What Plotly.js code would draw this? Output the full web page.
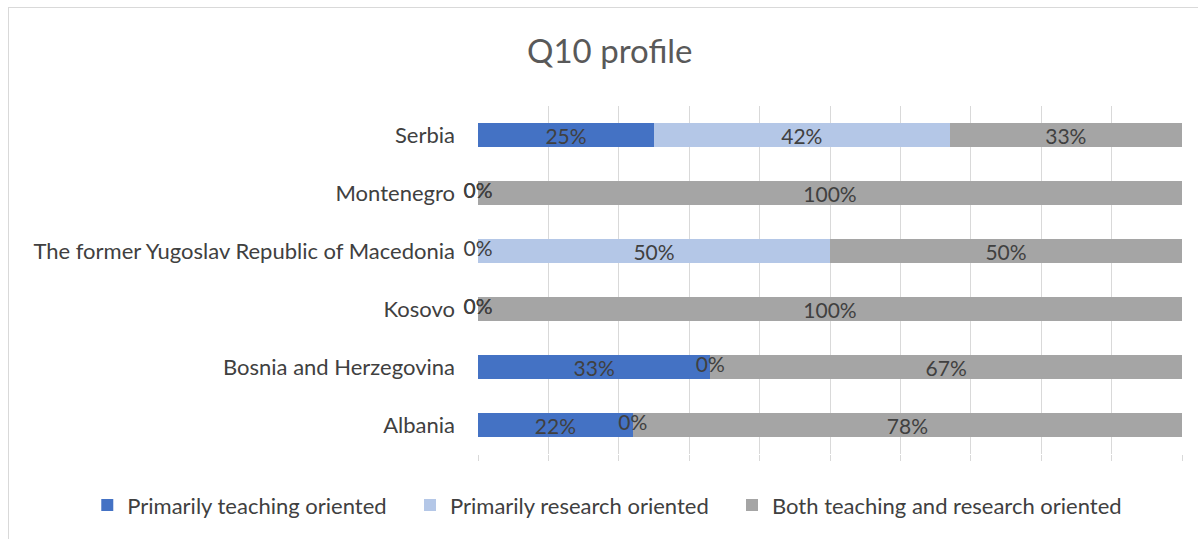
<!DOCTYPE html>
<html>
<head>
<meta charset="utf-8">
<script src="https://cdn.plot.ly/plotly-3.0.1.min.js"></script>
<style>
html,body{margin:0;padding:0;background:#fff;}
#wrap{position:relative;width:1198px;height:539px;overflow:hidden;}
#frame{position:absolute;left:8px;top:7px;width:1300px;height:600px;border-left:1px solid #d9d9d9;border-top:1px solid #d9d9d9;pointer-events:none;}
#chart{position:absolute;left:0;top:0;width:1198px;height:539px;}
</style>
</head>
<body>
<div id="wrap">
<div id="chart"></div>
<div id="frame"></div>
</div>
<script>
// Categories, top to bottom as shown
const categories = ["Serbia", "Montenegro", "The former Yugoslav Republic of Macedonia", "Kosovo", "Bosnia and Herzegovina", "Albania"];
const seriesNames = ["Primarily teaching oriented", "Primarily research oriented", "Both teaching and research oriented"];
const teaching = [25, 0, 0, 0, 33, 22];
const research = [42, 0, 50, 0, 0, 0];
const both = [33, 100, 50, 100, 67, 78];
const colors = ["#4472C4", "#B4C7E7", "#A5A5A5"];

const FONT = "Lato, 'Open Sans', sans-serif";
const TXT = "#404040";
const series = [teaching, research, both];
const legendIds = ["legend", "legend2", "legend3"];
const legendX = [-0.555, -0.0966, 0.3608];

const traces = series.map((vals, i) => ({
  type: "bar",
  orientation: "h",
  name: seriesNames[i],
  legend: legendIds[i],
  y: categories,
  x: vals,
  marker: {color: colors[i]},
  text: vals.map(v => v === 0 ? "" : v + "%"),
  textposition: "inside",
  insidetextanchor: "middle",
  constraintext: "none",
  textfont: {family: FONT, size: 21, color: TXT},
  hoverinfo: "none"
}));

// zero-value labels placed at the cumulative position of their (empty) segment
const zx = [], zy = [], zt = [];
categories.forEach((c, k) => {
  let cum = 0;
  series.forEach((vals) => {
    if (vals[k] === 0) { zx.push(cum); zy.push(c); zt.push("0%"); }
    cum += vals[k];
  });
});
traces.push({
  type: "scatter",
  mode: "text",
  x: zx, y: zy, text: zt,
  textposition: "middle center",
  textfont: {family: FONT, size: 21, color: TXT},
  showlegend: false,
  cliponaxis: false,
  hoverinfo: "none"
});

const layout = {
  width: 1198, height: 539,
  margin: {l: 478, r: 16, t: 106, b: 85},
  paper_bgcolor: "rgba(0,0,0,0)",
  plot_bgcolor: "rgba(0,0,0,0)",
  barmode: "stack",
  bargap: 0.6,
  showlegend: true,
  title: {
    text: "Q10 profile",
    font: {family: FONT, size: 33, color: "#595959"},
    x: 0.509, xref: "container", xanchor: "center",
    y: 0.905, yref: "container", yanchor: "middle"
  },
  xaxis: {
    range: [0, 100],
    dtick: 10,
    showgrid: true,
    gridcolor: "#d9d9d9",
    gridwidth: 1,
    zeroline: false,
    showline: false,
    ticks: "outside",
    ticklen: 6,
    tickcolor: "#d9d9d9",
    showticklabels: false,
    fixedrange: true
  },
  yaxis: {
    type: "category",
    autorange: "reversed",
    showgrid: false,
    zeroline: false,
    showline: false,
    ticks: "",
    ticklabelstandoff: 22,
    tickfont: {family: FONT, size: 22, color: TXT},
    fixedrange: true
  }
};

legendIds.forEach((id, i) => {
  layout[id] = {
    orientation: "h",
    xref: "paper", yref: "paper",
    x: legendX[i], xanchor: "left",
    y: -0.147, yanchor: "middle",
    font: {family: FONT, size: 22, color: TXT},
    itemwidth: 30,
    bgcolor: "rgba(0,0,0,0)"
  };
});

Plotly.newPlot("chart", traces, layout, {displayModeBar: false, staticPlot: true});
</script>
</body>
</html>
